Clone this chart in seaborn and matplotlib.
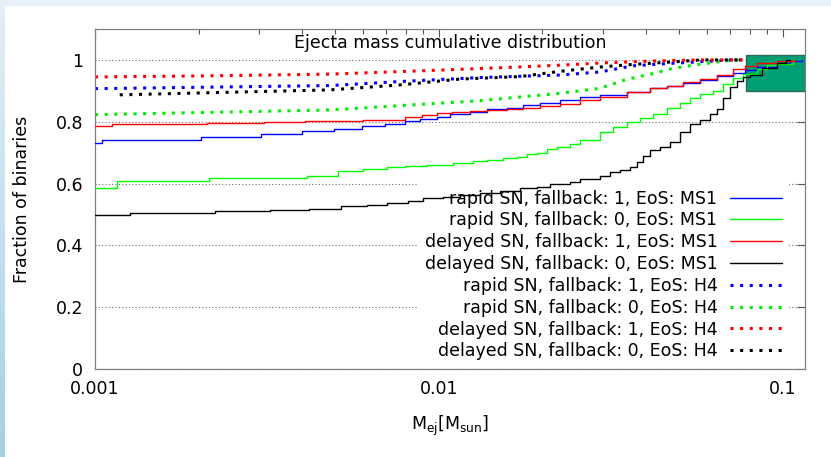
import numpy as np
import matplotlib
matplotlib.use("Agg")
import matplotlib.pyplot as plt
from matplotlib.patches import Rectangle
from matplotlib.colors import LinearSegmentedColormap
from matplotlib.ticker import FuncFormatter, NullFormatter
import seaborn as sns

# ---- data (cumulative fractions vs ejecta mass) ----
rapid_fb1_ms1_x = [0.001, 0.00105, 0.00203, 0.00303, 0.00401, 0.00495, 0.00596, 0.00697, 0.00797, 0.00881,
                   0.00985, 0.01076, 0.0123, 0.01376, 0.01573, 0.01759, 0.01966, 0.02247, 0.0257, 0.02938,
                   0.03513, 0.04106, 0.04591, 0.05119, 0.05737, 0.06416, 0.0717, 0.07754, 0.08386, 0.09587,
                   0.1048, 0.1136]
rapid_fb1_ms1_y = [0.731, 0.740, 0.749, 0.761, 0.770, 0.778, 0.787, 0.794, 0.802, 0.809,
                   0.816, 0.825, 0.832, 0.840, 0.846, 0.854, 0.862, 0.870, 0.879, 0.886,
                   0.897, 0.908, 0.916, 0.926, 0.936, 0.947, 0.959, 0.968, 0.978, 0.990,
                   0.996, 1.0]

rapid_fb0_ms1_x = [0.001, 0.00116, 0.00215, 0.00413, 0.0051, 0.00603, 0.00705, 0.00797, 0.00921, 0.011,
                   0.01256, 0.01376, 0.01535, 0.01682, 0.01798, 0.01923, 0.02056, 0.02199, 0.02403, 0.0257,
                   0.02938, 0.03211, 0.03513, 0.0384, 0.04198, 0.04591, 0.05017, 0.05365, 0.05737, 0.06272,
                   0.06707, 0.0717, 0.07667, 0.08386, 0.08967, 0.09587, 0.1071]
rapid_fb0_ms1_y = [0.586, 0.608, 0.619, 0.626, 0.639, 0.647, 0.654, 0.658, 0.661, 0.666,
                   0.672, 0.677, 0.683, 0.687, 0.694, 0.700, 0.711, 0.717, 0.728, 0.741,
                   0.766, 0.782, 0.798, 0.812, 0.825, 0.846, 0.859, 0.878, 0.889, 0.900,
                   0.921, 0.943, 0.955, 0.972, 0.982, 0.988, 0.999]

delayed_fb1_ms1_x = [0.001, 0.00112, 0.00211, 0.00309, 0.00408, 0.00601, 0.00797, 0.00891, 0.00985, 0.01089,
                     0.0123, 0.01376, 0.01573, 0.01759, 0.01966, 0.02247, 0.0257, 0.02938, 0.03513, 0.04106,
                     0.04591, 0.05119, 0.05737, 0.06416, 0.0717, 0.07754, 0.08386, 0.09587, 0.1084]
delayed_fb1_ms1_y = [0.786, 0.793, 0.797, 0.800, 0.803, 0.807, 0.814, 0.821, 0.827, 0.831,
                     0.834, 0.837, 0.841, 0.846, 0.852, 0.857, 0.870, 0.881, 0.895, 0.908,
                     0.916, 0.927, 0.938, 0.952, 0.970, 0.980, 0.991, 0.997, 1.0]

delayed_fb0_ms1_x = [0.001, 0.00126, 0.00224, 0.00323, 0.00419, 0.00518, 0.00616, 0.00705, 0.00814, 0.009,
                     0.01029, 0.01151, 0.01316, 0.01504, 0.0172, 0.01923, 0.02102, 0.02403, 0.0257, 0.02938,
                     0.03141, 0.03359, 0.03591, 0.03755, 0.03926, 0.04106, 0.04389, 0.04694, 0.05017, 0.05365,
                     0.05737, 0.06135, 0.06416, 0.06707, 0.07013, 0.07335, 0.07667, 0.08019, 0.0869, 0.09587,
                     0.102, 0.1048]
delayed_fb0_ms1_y = [0.499, 0.506, 0.510, 0.514, 0.517, 0.528, 0.532, 0.537, 0.544, 0.552,
                     0.558, 0.562, 0.569, 0.577, 0.584, 0.588, 0.597, 0.606, 0.615, 0.626,
                     0.637, 0.644, 0.653, 0.669, 0.690, 0.709, 0.717, 0.733, 0.766, 0.792,
                     0.805, 0.825, 0.841, 0.878, 0.911, 0.932, 0.945, 0.952, 0.975, 0.990,
                     1.0, 1.0]

rapid_fb1_h4_x = [0.001, 0.00482, 0.0077, 0.01316, 0.02247, 0.02938, 0.03671, 0.04591, 0.05737, 0.07013, 0.07667]
rapid_fb1_h4_y = [0.907, 0.917, 0.930, 0.943, 0.951, 0.961, 0.981, 0.988, 0.994, 1.0, 1.0]

rapid_fb0_h4_x = [0.001, 0.00482, 0.0077, 0.01316, 0.02247, 0.02938, 0.03513, 0.04198, 0.04797, 0.05737,
                  0.06859, 0.07499, 0.07667]
rapid_fb0_h4_y = [0.823, 0.838, 0.852, 0.868, 0.892, 0.908, 0.937, 0.956, 0.973, 0.986,
                  0.997, 1.0, 1.0]

delayed_fb1_h4_x = [0.001, 0.002, 0.00482, 0.01007, 0.0153, 0.02247, 0.02938, 0.04106, 0.05737, 0.07667]
delayed_fb1_h4_y = [0.945, 0.948, 0.954, 0.967, 0.975, 0.983, 0.990, 0.996, 1.0, 1.0]

delayed_fb0_h4_x = [0.00118, 0.00482, 0.0077, 0.01151, 0.0172, 0.02247, 0.02938, 0.0384, 0.05017, 0.05737, 0.07667]
delayed_fb0_h4_y = [0.887, 0.903, 0.919, 0.938, 0.946, 0.963, 0.977, 0.987, 0.995, 1.0, 1.0]

labels = ["rapid SN, fallback: 1, EoS: MS1", "rapid SN, fallback: 0, EoS: MS1",
          "delayed SN, fallback: 1, EoS: MS1", "delayed SN, fallback: 0, EoS: MS1",
          "rapid SN, fallback: 1, EoS: H4", "rapid SN, fallback: 0, EoS: H4",
          "delayed SN, fallback: 1, EoS: H4", "delayed SN, fallback: 0, EoS: H4"]

# highlighted box in the upper right corner
box_x = [0.078, 0.116]
box_y = [0.9, 1.015]

x_range = [0.001, 0.116]
y_range = [0, 1.1]

sns.set_style("white")
plt.rcParams['font.family'] = ['DejaVu Sans']
plt.rcParams['mathtext.default'] = 'regular'
for key in ['text.color', 'axes.labelcolor', 'xtick.labelcolor', 'ytick.labelcolor']:
    plt.rcParams[key] = 'black'
FS = 12.5

fig = plt.figure(figsize=(8.31, 4.57), dpi=100)
ax = fig.add_axes([95 / 831, 1 - 369 / 457, 710 / 831, 340 / 457])

# light blue frame pieces of the screenshot
fig.patches.append(Rectangle((0, 1 - 5 / 457), 1, 5 / 457, transform=fig.transFigure,
                             color='#e7eff7', zorder=0))
gax = fig.add_axes([0, 0, 5 / 831, 1 - 5 / 457])
gax.imshow(np.linspace(0, 1, 50).reshape(-1, 1), aspect='auto',
           cmap=LinearSegmentedColormap.from_list('strip', ['#e3eef6', '#a6d1e2']))
gax.axis('off')

solid = [(rapid_fb1_ms1_x, rapid_fb1_ms1_y, '#0000ff', labels[0]),
         (rapid_fb0_ms1_x, rapid_fb0_ms1_y, '#00ff00', labels[1]),
         (delayed_fb1_ms1_x, delayed_fb1_ms1_y, '#ff0000', labels[2]),
         (delayed_fb0_ms1_x, delayed_fb0_ms1_y, '#000000', labels[3])]
dotted = [(rapid_fb1_h4_x, rapid_fb1_h4_y, '#0000ff', labels[4]),
          (rapid_fb0_h4_x, rapid_fb0_h4_y, '#00ee00', labels[5]),
          (delayed_fb1_h4_x, delayed_fb1_h4_y, '#ff0000', labels[6]),
          (delayed_fb0_h4_x, delayed_fb0_h4_y, '#000000', labels[7])]

for x, y, c, lab in dotted:
    sns.lineplot(x=x, y=y, color=c, linewidth=2.2, linestyle=(0, (1, 2.15)), dash_capstyle='butt',
                 label=lab, estimator=None, legend=False, ax=ax, zorder=2)

for x, y, c, lab in solid:
    sns.lineplot(x=x, y=y, color=c, linewidth=1.0, drawstyle='steps-post',
                 label=lab, estimator=None, legend=False, ax=ax, zorder=3)

ax.add_patch(Rectangle((box_x[0], box_y[0]), box_x[1] - box_x[0], box_y[1] - box_y[0],
                       facecolor='#009e73', edgecolor='#2d6a55', linewidth=1.0, zorder=2.5))

ax.set_xscale('log')
ax.set_xlim(x_range)
ax.set_ylim(y_range)
ax.set_yticks([0, 0.2, 0.4, 0.6, 0.8, 1])
fmt = FuncFormatter(lambda v, p: f"{v:g}")
ax.xaxis.set_major_formatter(fmt)
ax.xaxis.set_minor_formatter(NullFormatter())
ax.yaxis.set_major_formatter(fmt)

ax.tick_params(which='both', direction='in', top=True, right=True, color='#555555', width=0.8)
ax.tick_params(which='major', length=6, labelsize=FS, labelcolor='black')
ax.tick_params(which='minor', length=3.5)
ax.tick_params(axis='x', which='major', pad=8)
ax.tick_params(axis='y', which='major', pad=8.5)
for s in ax.spines.values():
    s.set_color('#808080')
    s.set_linewidth(0.9)

ax.set_axisbelow(True)
ax.yaxis.grid(True, linestyle=(0, (1, 2)), color='#707070', linewidth=0.8)
ax.xaxis.grid(False)

ax.text(0.5, 0.959, "Ejecta mass cumulative distribution", transform=ax.transAxes,
        ha='center', va='center', fontsize=FS, color='black')
ax.set_ylabel("Fraction of binaries", fontsize=FS, color='black')
ax.yaxis.set_label_coords(-0.09, 0.5)
ax.set_xlabel(r"$\mathregular{M_{ej}[M_{sun}]}$", fontsize=FS, color='black')
ax.xaxis.set_label_coords(0.5, -0.132)

handles, labs = ax.get_legend_handles_labels()
order = [labs.index(l) for l in labels]
leg = ax.legend([handles[i] for i in order], [labs[i] for i in order],
                loc='lower right', bbox_to_anchor=(0.977, 0.005), borderaxespad=0,
                markerfirst=False, fontsize=FS, handlelength=3.0, handletextpad=0.7,
                labelspacing=0.22, frameon=True, facecolor='white', edgecolor='none',
                framealpha=1, fancybox=False, labelcolor='black')
leg.set_zorder(1.5)

fig.savefig("out.png", dpi=100)
